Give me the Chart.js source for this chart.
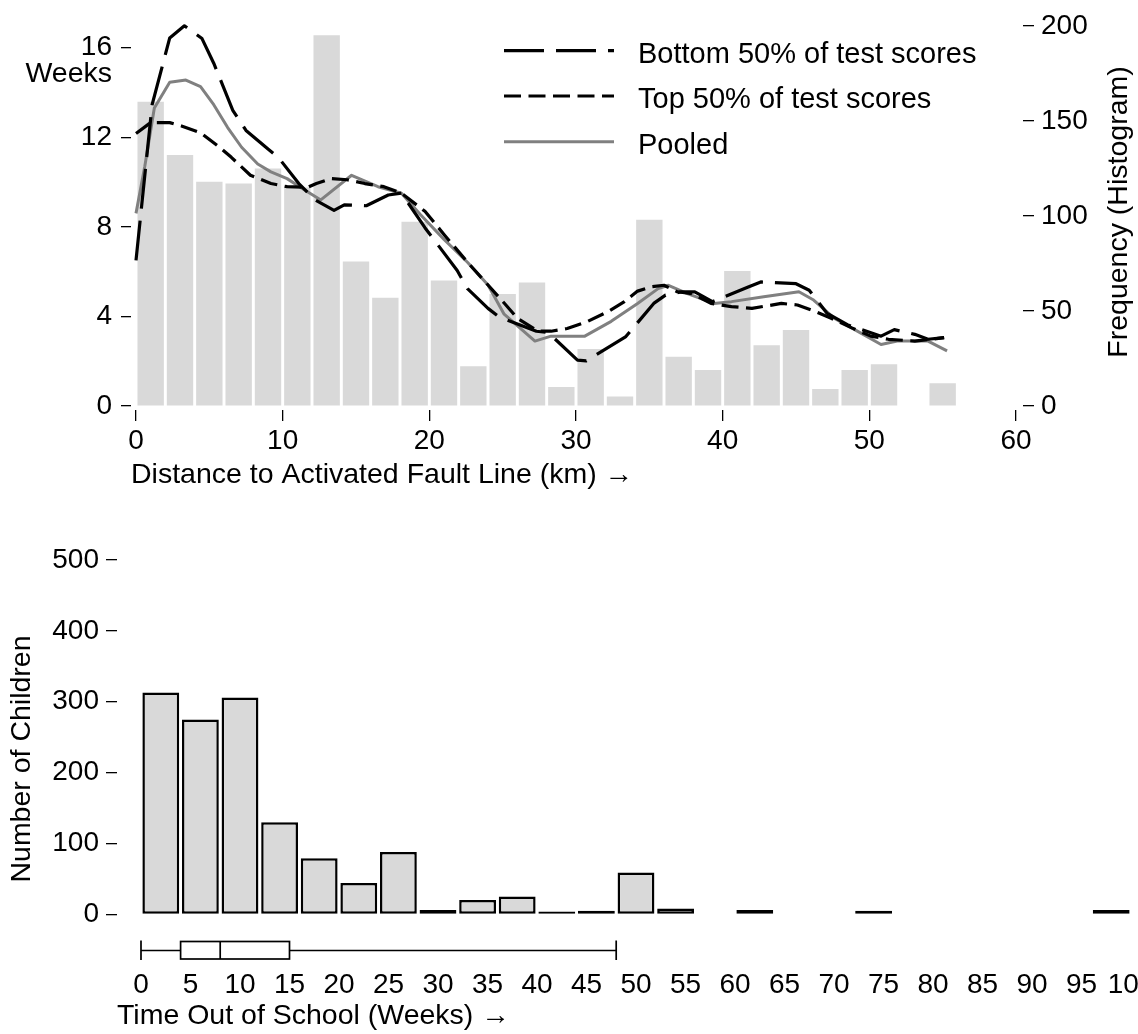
<!DOCTYPE html>
<html>
<head>
<meta charset="utf-8">
<title>Time out of school and distance to the fault line</title>
<script src="https://cdn.jsdelivr.net/npm/chart.js@4/dist/chart.umd.min.js"></script>
<style>
  html, body { margin: 0; padding: 0; background: #fff; overflow: hidden; width: 1138px; height: 1034px; }
  canvas { position: absolute; left: 0; }
  #distanceChart { top: 0; }
  #weeksChart { top: 520px; }
</style>
</head>
<body>
<canvas id="distanceChart" width="1138" height="490"></canvas>
<canvas id="weeksChart" width="1200" height="514"></canvas>
<script>
// ---------- Panel A: weeks out of school by distance to the fault line ----------
// Histogram of observations, 2-km bins (bin centres, km)
const distBinCentres = [1, 3, 5, 7, 9, 11, 13, 15, 17, 19, 21, 23, 25, 27, 29, 31, 33, 35, 37, 39, 41, 43, 45, 47, 49, 51, 53, 55];
const distBinCounts  = [160, 132, 118, 117, 125, 115, 195, 76, 57, 97, 66, 21, 59, 65, 10, 30, 5, 98, 26, 19, 71, 32, 40, 9, 19, 22, 0, 12];

// Smoothed weeks out of school, bottom half of test scores
const bottomKm    = [0, 1.1, 2.3, 3.3, 4.5, 5.3, 6.6, 7.5, 9.0, 9.7, 11.1, 12.2, 13.5, 14.2, 15.7, 17.2, 18.1, 19.7, 21.9, 22.6, 24.0, 24.8, 27.3, 28.1, 30.1, 30.7, 33.4, 35.3, 36.1, 37.2, 38.1, 39.3, 41.7, 42.6, 45.0, 45.9, 47.1, 48.5, 50.8, 51.7, 53.1, 54.0, 55.1];
const bottomWeeks = [6.5, 13.45, 16.43, 16.97, 16.4, 15.3, 13.2, 12.3, 11.47, 11.1, 9.93, 9.2, 8.73, 8.98, 8.94, 9.42, 9.5, 7.96, 6.05, 5.24, 4.36, 3.96, 3.34, 3.28, 2.05, 2.02, 3.1, 4.58, 4.95, 5.1, 5.1, 4.66, 5.3, 5.54, 5.46, 5.17, 4.15, 3.63, 3.12, 3.41, 3.2, 2.98, 3.05];

// Smoothed weeks out of school, top half of test scores
const topKm    = [0, 1.0, 2.3, 3.1, 4.4, 5.7, 6.5, 7.8, 9.2, 10.3, 11.7, 12.3, 13.3, 14.4, 15.6, 16.9, 18.1, 19.7, 21.0, 22.6, 24.0, 25.1, 26.0, 27.4, 28.3, 29.4, 30.8, 32.2, 33.3, 34.2, 35.1, 36.0, 36.9, 37.9, 39.2, 40.6, 42.0, 44.0, 45.1, 46.3, 47.4, 48.8, 50.1, 51.3, 53.1, 55.1];
const topWeeks = [12.16, 12.65, 12.65, 12.5, 12.2, 11.55, 11.1, 10.3, 9.93, 9.79, 9.76, 9.93, 10.15, 10.1, 9.93, 9.79, 9.5, 8.69, 7.66, 6.42, 5.4, 4.6, 3.92, 3.34, 3.34, 3.46, 3.78, 4.22, 4.66, 5.13, 5.32, 5.39, 5.1, 5.02, 4.58, 4.44, 4.36, 4.58, 4.51, 4.22, 3.92, 3.49, 3.12, 2.98, 2.9, 3.05];

// Smoothed weeks out of school, all children
const pooledKm    = [0, 0.6, 1.25, 2.3, 3.4, 4.4, 5.3, 6.25, 7.2, 8.3, 9.2, 10.3, 11.5, 12.6, 14.7, 16.5, 18.1, 19.4, 21.0, 22.6, 24.0, 25.1, 27.2, 28.3, 30.6, 32.4, 34.2, 35.6, 36.3, 37.6, 39.4, 40.6, 42.8, 45.2, 46.2, 47.6, 49.0, 50.8, 51.9, 54.0, 55.3];
const pooledWeeks = [8.6, 10.7, 13.3, 14.45, 14.55, 14.26, 13.45, 12.43, 11.55, 10.8, 10.45, 10.15, 9.64, 9.2, 10.3, 9.79, 9.5, 8.54, 7.44, 6.42, 5.4, 4.1, 2.9, 3.12, 3.12, 3.78, 4.58, 5.24, 5.39, 5.02, 4.58, 4.66, 4.88, 5.1, 4.73, 3.92, 3.41, 2.75, 2.9, 2.9, 2.46];

const seriesLabels   = ['Bottom 50% of test scores', 'Top 50% of test scores', 'Pooled'];
const kmTicks        = [0, 10, 20, 30, 40, 50, 60];
const weekTicksLeft  = [0, 4, 8, 12, 16];
const freqTicksRight = [0, 50, 100, 150, 200];

// ---------- Panel B: distribution of time out of school ----------
// 4-week bins (bin centres, weeks); empty bins are null
const weekBinCentres = [2, 6, 10, 14, 18, 22, 26, 30, 34, 38, 42, 46, 50, 54, 58, 62, 66, 70, 74, 78, 82, 86, 90, 94, 98];
const childCounts    = [313, 275, 306, 130, 79, 44, 88, 6, 20, 25, 4, 5, 59, 8, null, 6, null, null, 5, null, null, null, null, null, 6];
const weekTicks      = [0, 5, 10, 15, 20, 25, 30, 35, 40, 45, 50, 55, 60, 65, 70, 75, 80, 85, 90, 95, 100];
const childTicks     = [0, 100, 200, 300, 400, 500];
// Box plot summary of weeks out of school: lower whisker, Q1, median, Q3, upper whisker
const boxSummary     = [0, 4, 8, 15, 48];

const FONT = "'Liberation Sans', Arial, Helvetica, sans-serif";
Chart.defaults.font.family = FONT;
Chart.defaults.color = '#000';

const toPoints = (xs, ys) => xs.map((x, i) => ({ x: x, y: ys[i] }));
const fixedTicks = values => axis => { axis.ticks = values.map(v => ({ value: v })); };

// Legend drawn inside the plot area, using each line dataset's own stroke style
const insideLegend = {
  id: 'insideLegend',
  afterDraw(chart) {
    const ctx = chart.ctx;
    const rows = [50.7, 96, 141.7];
    ctx.save();
    for (let i = 0; i < 3; i++) {
      const ds = chart.data.datasets[i];
      ctx.beginPath();
      ctx.strokeStyle = ds.borderColor;
      ctx.lineWidth = ds.borderWidth;
      ctx.setLineDash(ds.borderDash || []);
      ctx.lineCap = 'butt';
      ctx.moveTo(504, rows[i]);
      ctx.lineTo(614, rows[i]);
      ctx.stroke();
      ctx.setLineDash([]);
      ctx.fillStyle = '#000';
      ctx.font = '29px ' + FONT;
      ctx.textAlign = 'left';
      ctx.textBaseline = 'alphabetic';
      ctx.fillText(ds.label, 638, rows[i] + 11.8);
    }
    ctx.restore();
  }
};

// Axis captions: horizontal "Weeks" on the left, rotated histogram caption on the right
const axisCaptions = {
  id: 'axisCaptions',
  afterDraw(chart) {
    const ctx = chart.ctx;
    ctx.save();
    ctx.fillStyle = '#000';
    ctx.font = '28.5px ' + FONT;
    ctx.textAlign = 'right';
    ctx.textBaseline = 'alphabetic';
    ctx.fillText('Weeks', 112, 82);
    ctx.translate(1127, 212);
    ctx.rotate(-Math.PI / 2);
    ctx.textAlign = 'center';
    ctx.fillText('Frequency (Histogram)', 0, 0);
    ctx.restore();
  }
};

new Chart(document.getElementById('distanceChart'), {
  type: 'bar',
  data: {
    datasets: [
      { type: 'line', label: seriesLabels[0], data: toPoints(bottomKm, bottomWeeks), yAxisID: 'y',
        borderColor: '#000', borderWidth: 3.2, borderDash: [40, 12], pointRadius: 0, tension: 0,
        borderJoinStyle: 'round', clip: false, order: 1 },
      { type: 'line', label: seriesLabels[1], data: toPoints(topKm, topWeeks), yAxisID: 'y',
        borderColor: '#000', borderWidth: 3.2, borderDash: [17, 7.5], pointRadius: 0, tension: 0,
        borderJoinStyle: 'round', clip: false, order: 1 },
      { type: 'line', label: seriesLabels[2], data: toPoints(pooledKm, pooledWeeks), yAxisID: 'y',
        borderColor: '#808080', borderWidth: 3, pointRadius: 0, tension: 0,
        borderJoinStyle: 'round', clip: false, order: 1 },
      { type: 'bar', label: 'Frequency', data: toPoints(distBinCentres, distBinCounts), yAxisID: 'y2',
        backgroundColor: '#d9d9d9', borderWidth: 0, barPercentage: 0.9, categoryPercentage: 1, order: 2 }
    ]
  },
  options: {
    responsive: false, animation: false, devicePixelRatio: 1,
    layout: { padding: { top: 20, left: 0, right: 0, bottom: 0 } },
    plugins: { legend: { display: false }, tooltip: { enabled: false } },
    scales: {
      x: {
        type: 'linear', min: -0.341, max: 60.477, offset: false,
        afterBuildTicks: fixedTicks(kmTicks),
        afterFit: axis => { axis.height = 80; },
        grid: { display: true, offset: false, drawOnChartArea: false, drawTicks: true, tickLength: 11, color: '#000', lineWidth: 1.3 },
        border: { display: false },
        ticks: { font: { size: 28 }, padding: 3, maxRotation: 0, autoSkip: false },
        title: { display: true, text: 'Distance to Activated Fault Line (km) \u2192', align: 'start', font: { size: 28.5 }, padding: { top: 0, bottom: -2 } }
      },
      y: {
        position: 'left', min: -0.176, max: 16.97,
        afterBuildTicks: fixedTicks(weekTicksLeft),
        afterFit: axis => { axis.width = 131; },
        grid: { display: true, drawOnChartArea: false, drawTicks: true, tickLength: 10, color: '#000', lineWidth: 1.3 },
        border: { display: false },
        ticks: { font: { size: 28 }, padding: 9 }
      },
      y2: {
        position: 'right', min: -2.07, max: 200,
        afterBuildTicks: fixedTicks(freqTicksRight),
        afterFit: axis => { axis.width = 115; },
        grid: { display: true, drawOnChartArea: false, drawTicks: true, tickLength: 11, color: '#000', lineWidth: 1.3 },
        border: { display: false },
        ticks: { font: { size: 28 }, padding: 7 }
      }
    }
  },
  plugins: [insideLegend, axisCaptions]
});

// Box plot of weeks out of school, drawn under the histogram on the x scale
const boxPlot = {
  id: 'boxPlot',
  afterDatasetsDraw(chart) {
    const ctx = chart.ctx;
    const xs = chart.scales.x;
    const [lo, q1, med, q3, hi] = boxSummary.map(v => xs.getPixelForValue(v));
    const base = chart.chartArea.bottom + 1;
    const top = base - 17.5, mid = base - 8.5;
    ctx.save();
    ctx.strokeStyle = '#000';
    ctx.lineWidth = 1.7;
    ctx.beginPath();
    ctx.moveTo(lo, mid); ctx.lineTo(q1, mid);
    ctx.moveTo(q3, mid); ctx.lineTo(hi, mid);
    ctx.moveTo(lo, top - 1); ctx.lineTo(lo, base + 1);
    ctx.moveTo(hi, top - 1); ctx.lineTo(hi, base + 1);
    ctx.stroke();
    ctx.fillStyle = '#fff';
    ctx.fillRect(q1, top, q3 - q1, base - top);
    ctx.strokeRect(q1, top, q3 - q1, base - top);
    ctx.beginPath();
    ctx.moveTo(med, top); ctx.lineTo(med, base);
    ctx.stroke();
    ctx.restore();
  }
};

new Chart(document.getElementById('weeksChart'), {
  type: 'bar',
  data: {
    datasets: [
      { label: 'Number of Children', data: toPoints(weekBinCentres, childCounts),
        backgroundColor: '#d9d9d9', borderColor: '#000', borderWidth: 2.5, borderSkipped: false,
        barPercentage: 0.93, categoryPercentage: 1 }
    ]
  },
  options: {
    responsive: false, animation: false, devicePixelRatio: 1,
    layout: { padding: { top: 40, left: 0, right: 69, bottom: 0 } },
    plugins: { legend: { display: false }, tooltip: { enabled: false } },
    scales: {
      x: {
        type: 'linear', min: -2.424, max: 100, offset: false,
        afterBuildTicks: fixedTicks(weekTicks),
        afterFit: axis => { axis.height = 76; },
        grid: { display: false, offset: false },
        border: { display: false },
        ticks: { font: { size: 28 }, padding: 2, maxRotation: 0, autoSkip: false },
        title: { display: true, text: 'Time Out of School (Weeks) \u2192', align: 'start', font: { size: 28.5 }, padding: { top: 0, bottom: 1 } }
      },
      y: {
        position: 'left', min: -61.7, max: 500,
        afterBuildTicks: fixedTicks(childTicks),
        afterFit: axis => { axis.width = 117; },
        grid: { display: true, drawOnChartArea: false, drawTicks: true, tickLength: 11, color: '#000', lineWidth: 1.3 },
        border: { display: false },
        ticks: { font: { size: 28 }, padding: 7 },
        title: { display: true, text: 'Number of Children', font: { size: 28.5 }, padding: { top: 5, bottom: 0 } }
      }
    }
  },
  plugins: [boxPlot]
});
</script>
</body>
</html>
